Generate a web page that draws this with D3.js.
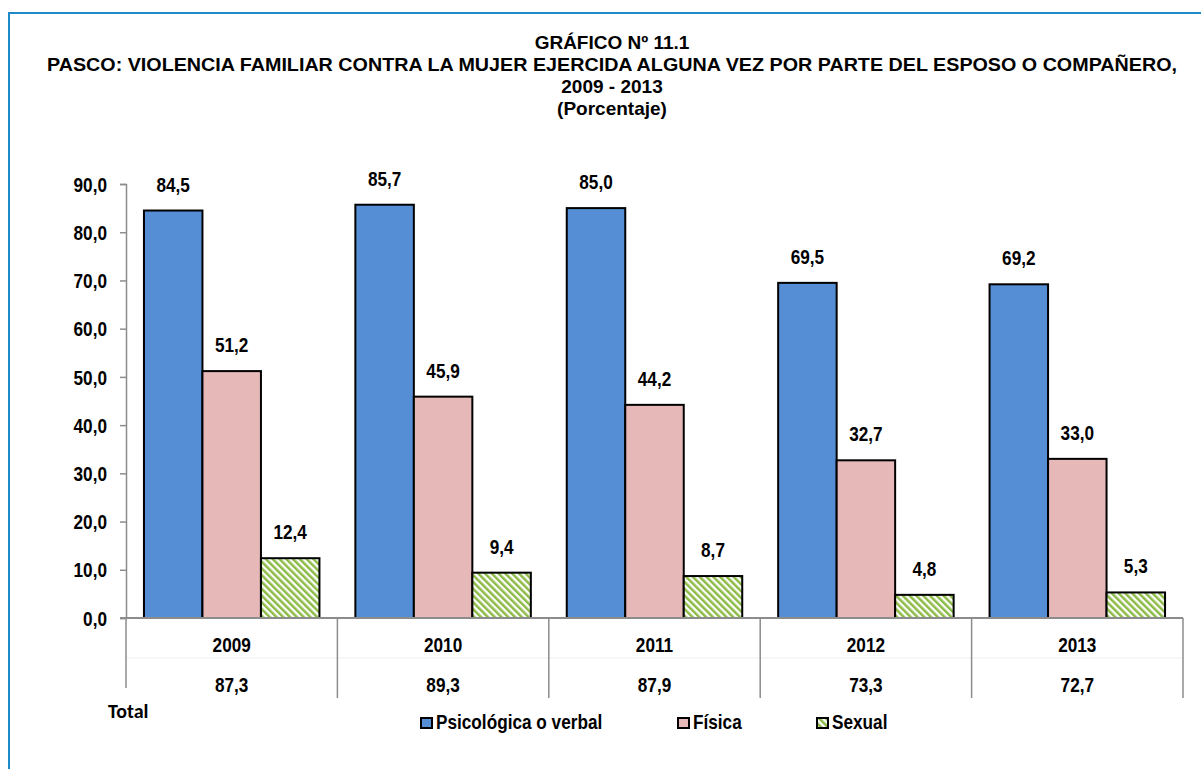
<!DOCTYPE html>
<html>
<head>
<meta charset="utf-8">
<script src="https://cdn.jsdelivr.net/npm/d3@7"></script>
<style>
  body { margin: 0; background: #fff; }
  svg { display: block; }
  text { font-family: "Liberation Sans", Arial, sans-serif; font-weight: bold; fill: #000; }
</style>
</head>
<body>
<div id="chart"></div>
<script>
const years = ['2009', '2010', '2011', '2012', '2013'];
const totals = [87.3, 89.3, 87.9, 73.3, 72.7];
const psicologica = [84.5, 85.7, 85.0, 69.5, 69.2];
const fisica = [51.2, 45.9, 44.2, 32.7, 33.0];
const sexual = [12.4, 9.4, 8.7, 4.8, 5.3];
const seriesNames = ['Psicológica o verbal', 'Física', 'Sexual'];
const yTicks = [0, 10, 20, 30, 40, 50, 60, 70, 80, 90];
const titleLines = [
    'GRÁFICO Nº 11.1',
    'PASCO: VIOLENCIA FAMILIAR CONTRA LA MUJER EJERCIDA ALGUNA VEZ POR PARTE DEL ESPOSO O COMPAÑERO,',
    '2009 - 2013',
    '(Porcentaje)'
];

const WIDTH = 1201;
const HEIGHT = 769;
const PLOT_LEFT = 126;
const PLOT_RIGHT = 1183;
const PLOT_TOP = 184;
const PLOT_BOTTOM = 618;
const SX = 0.86; // the original font is a condensed bold face
const FS = '20px';

const fmt = v => d3.format('.1f')(v).replace('.', ',');

// place a text at (x, y) squeezed horizontally
const narrow = (x, y, sx = SX) => `translate(${x},${y}) scale(${sx},1)`;

const series = [
    {name: seriesNames[0], values: psicologica, fill: '#558ed5'},
    {name: seriesNames[1], values: fisica, fill: '#e6b9b8'},
    {name: seriesNames[2], values: sexual, fill: 'url(#stripes)'}
];

const svg = d3.select('#chart').append('svg')
    .attr('width', WIDTH)
    .attr('height', HEIGHT);

// diagonal stripes for "Sexual"
const pattern = svg.append('defs').append('pattern')
    .attr('id', 'stripes')
    .attr('patternUnits', 'userSpaceOnUse')
    .attr('width', 4.8)
    .attr('height', 4.8)
    .attr('patternTransform', 'rotate(-45)');
pattern.append('rect').attr('width', 4.8).attr('height', 4.8).attr('fill', '#fff');
pattern.append('rect').attr('width', 2.5).attr('height', 4.8).attr('fill', '#8cbb46');

// outer frame
svg.append('rect')
    .attr('x', 9).attr('y', 13)
    .attr('width', WIDTH + 20).attr('height', HEIGHT + 20)
    .attr('fill', 'none')
    .attr('stroke', '#1e8bc8')
    .attr('stroke-width', 2);

// title
svg.append('g')
    .selectAll('text')
    .data(titleLines)
    .join('text')
    .attr('transform', (d, i) => narrow(612, 49 + i * 21.9, 1))
    .attr('text-anchor', 'middle')
    .style('font-size', '19px')
    .text(d => d)
    .filter((d, i) => i === 1)
    .attr('textLength', 1130)
    .attr('lengthAdjust', 'spacingAndGlyphs');

const x0 = d3.scaleBand()
    .domain(years)
    .range([PLOT_LEFT, PLOT_RIGHT])
    .paddingInner(0)
    .paddingOuter(0);

const x1 = d3.scaleBand()
    .domain(d3.range(series.length))
    .range([0, x0.bandwidth()])
    .paddingOuter(0.307)
    .paddingInner(0);

const y = d3.scaleLinear()
    .domain([0, 90])
    .range([PLOT_BOTTOM, PLOT_TOP]);

// y axis
const yAxis = svg.append('g')
    .attr('transform', `translate(${PLOT_LEFT},0)`)
    .call(d3.axisLeft(y).tickValues(yTicks).tickSize(6).tickPadding(13).tickFormat(fmt));
yAxis.select('.domain').attr('stroke', '#8c8c8c').attr('stroke-width', 1.5);
yAxis.selectAll('.tick line').attr('stroke', '#8c8c8c').attr('stroke-width', 1.5);
yAxis.selectAll('.tick text')
    .attr('x', -19 / SX)
    .attr('transform', `scale(${SX},1)`)
    .attr('dy', '0.36em')
    .style('font-size', FS)
    .style('font-family', '"Liberation Sans", Arial, sans-serif')
    .attr('fill', '#000');

// bars
const groups = svg.append('g')
    .selectAll('g')
    .data(years)
    .join('g')
    .attr('transform', d => `translate(${x0(d)},0)`);

series.forEach((s, si) => {
    groups.append('rect')
        .attr('x', x1(si))
        .attr('y', (d, i) => y(s.values[i]))
        .attr('width', x1.bandwidth())
        .attr('height', (d, i) => y(0) - y(s.values[i]))
        .attr('fill', s.fill)
        .attr('stroke', '#000')
        .attr('stroke-width', 2);

    groups.append('text')
        .attr('transform', (d, i) => narrow(x1(si) + x1.bandwidth() / 2, y(s.values[i]) - 19))
        .attr('text-anchor', 'middle')
        .style('font-size', FS)
        .text((d, i) => fmt(s.values[i]));
});

// category axis with data-table like rows
svg.append('line')
    .attr('x1', PLOT_LEFT - 6).attr('x2', PLOT_RIGHT)
    .attr('y1', y(0)).attr('y2', y(0))
    .attr('stroke', '#8c8c8c').attr('stroke-width', 2);

svg.append('line')
    .attr('x1', PLOT_LEFT).attr('x2', PLOT_RIGHT)
    .attr('y1', 658).attr('y2', 658)
    .attr('stroke', '#efefef').attr('stroke-width', 1);

svg.append('line')
    .attr('x1', PLOT_LEFT).attr('x2', PLOT_LEFT)
    .attr('y1', y(0)).attr('y2', 688)
    .attr('stroke', '#8c8c8c').attr('stroke-width', 1.5);

svg.append('g')
    .selectAll('line')
    .data(years.slice(1).map(d => x0(d)).concat([PLOT_RIGHT]))
    .join('line')
    .attr('x1', d => d).attr('x2', d => d)
    .attr('y1', y(0)).attr('y2', 698)
    .attr('stroke', '#8c8c8c').attr('stroke-width', 1.5);

svg.append('g')
    .selectAll('text')
    .data(years)
    .join('text')
    .attr('transform', d => narrow(x0(d) + x0.bandwidth() / 2, 652))
    .attr('text-anchor', 'middle')
    .style('font-size', FS)
    .text(d => d);

svg.append('g')
    .selectAll('text')
    .data(totals)
    .join('text')
    .attr('transform', (d, i) => narrow(x0(years[i]) + x0.bandwidth() / 2, 692))
    .attr('text-anchor', 'middle')
    .style('font-size', FS)
    .text(d => fmt(d));

svg.append('text')
    .attr('x', 108)
    .attr('y', 718)
    .style('font-family', 'Carlito, Lato, "Open Sans", sans-serif')
    .style('font-size', '20px')
    .text('Total');

// legend
const legendX = [421, 678, 817];
const legend = svg.append('g')
    .selectAll('g')
    .data(series)
    .join('g')
    .attr('transform', (d, i) => `translate(${legendX[i]},718)`);
legend.append('rect')
    .attr('width', 11).attr('height', 10)
    .attr('fill', d => d.fill)
    .attr('stroke', '#000')
    .attr('stroke-width', 2);
legend.append('text')
    .attr('transform', narrow(15, 11))
    .style('font-size', FS)
    .text(d => d.name);
</script>
</body>
</html>
